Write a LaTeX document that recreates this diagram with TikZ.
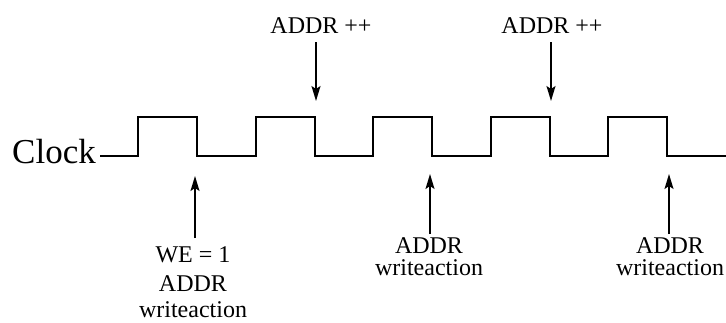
\documentclass[tikz,border=0pt]{standalone}
\usepackage{fontspec}
\setmainfont{Liberation Serif}
\usetikzlibrary{arrows.meta}
\begin{document}
\begin{tikzpicture}[x=1pt,y=-1pt,
  wave/.style={line width=2pt,line join=miter},
  pointer/.style={line width=1.6pt,-{Stealth[length=15pt,width=9pt,inset=3pt]}},
  lbl/.style={inner sep=0pt,anchor=base,font=\fontsize{24}{24}\selectfont},
  biglbl/.style={inner sep=0pt,anchor=base east,font=\fontsize{35}{35}\selectfont}]
\useasboundingbox (0,0) rectangle (726,322);

% clock signal
\node[biglbl] (clk) at (96,163) {Clock};
\coordinate (w0) at (100,156);
\draw[wave] (w0) -- (138,156) -- (138,117) -- (197,117) -- (197,156)
  -- (256,156) -- (256,117) -- (315,117) -- (315,156)
  -- (373,156) -- (373,117) -- (432,117) -- (432,156)
  -- (491,156) -- (491,117) -- (550,117) -- (550,156)
  -- (608,156) -- (608,117) -- (667,117) -- (667,156)
  -- (726,156);

% address increments on rising edges
\node[lbl] (inc1) at (321,33) {ADDR ++};
\node[lbl] (inc2) at (552,33) {ADDR ++};
\coordinate (inc1t) at (316,42);
\coordinate (inc1h) at (316,101);
\coordinate (inc2t) at (551,42);
\coordinate (inc2h) at (551,101);
\draw[pointer] (inc1t) -- (inc1h);
\draw[pointer] (inc2t) -- (inc2h);

% write actions on falling edges
\coordinate (wa1t) at (195,238);
\coordinate (wa1h) at (195,176);
\coordinate (wa2t) at (430,234);
\coordinate (wa2h) at (430,174);
\coordinate (wa3t) at (669,234);
\coordinate (wa3h) at (669,174);
\draw[pointer] (wa1t) -- (wa1h);
\draw[pointer] (wa2t) -- (wa2h);
\draw[pointer] (wa3t) -- (wa3h);

\node[lbl] (we1) at (193,262) {WE = 1};
\node[lbl] (ad1) at (193,291) {ADDR};
\node[lbl] (wr1) at (193,317) {writeaction};

\node[lbl] (ad2) at (429,253) {ADDR};
\node[lbl] (wr2) at (429,275) {writeaction};

\node[lbl] (ad3) at (670,253) {ADDR};
\node[lbl] (wr3) at (670,275) {writeaction};
\end{tikzpicture}
\end{document}
